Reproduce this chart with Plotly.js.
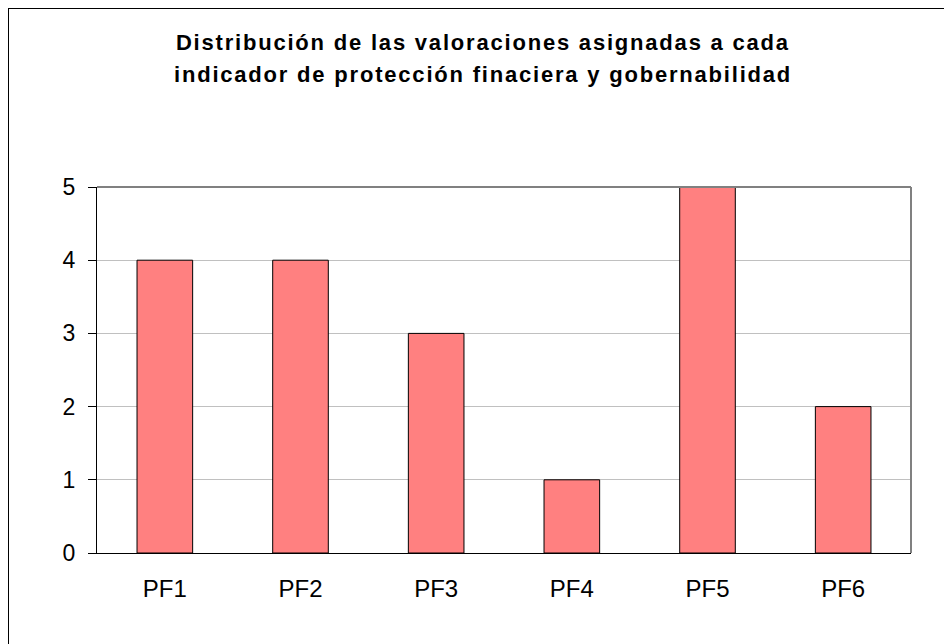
<!DOCTYPE html>
<html>
<head>
<meta charset="utf-8">
<script src="https://cdn.plot.ly/plotly-3.0.1.min.js"></script>
<style>
html,body{margin:0;padding:0;background:#fff;overflow:hidden;}
#wrap{position:relative;width:944px;height:644px;overflow:hidden;}
#chart{width:944px;height:644px;}
#frame{position:absolute;left:8px;top:8px;width:1000px;height:1000px;border:1.5px solid #000;pointer-events:none;box-sizing:border-box;}
#chart .annotation-text{letter-spacing:1.8px;}
</style>
</head>
<body>
<div id="wrap"><div id="chart"></div><div id="frame"></div></div>
<script>
const categories = ["PF1", "PF2", "PF3", "PF4", "PF5", "PF6"];
const values = [4, 4, 3, 1, 5, 2];
const yTicks = [0, 1, 2, 3, 4, 5];
const titleLines = [
  "Distribución de las valoraciones asignadas a cada",
  "indicador de protección finaciera y gobernabilidad"
];

const trace = {
  type: "bar",
  x: categories,
  y: values,
  width: 0.41,
  marker: {color: "#FF8080", line: {color: "#000000", width: 1}},
  hoverinfo: "x+y"
};

const titleFont = {family: "Liberation Sans, Arial, sans-serif", size: 22, color: "#000000", weight: "bold"};
const titleY = [1.3948, 1.3074];

const layout = {
  width: 944,
  height: 644,
  margin: {l: 97, r: 33, t: 187, b: 91, pad: 0},
  paper_bgcolor: "#ffffff",
  plot_bgcolor: "#ffffff",
  showlegend: false,
  font: {family: "Liberation Sans, Arial, sans-serif", color: "#000000", size: 23},
  annotations: titleLines.map((t, i) => ({
    text: t, xref: "paper", yref: "paper", x: 0.4748, y: titleY[i],
    xanchor: "center", yanchor: "middle", showarrow: false, font: titleFont
  })),
  xaxis: {
    type: "category",
    showline: true, linecolor: "#000000", linewidth: 1,
    ticks: "", showgrid: false, zeroline: false,
    tickfont: {size: 24, family: "Liberation Sans, Arial, sans-serif", color: "#000000"},
    ticklabelstandoff: 14
  },
  yaxis: {
    range: [0, 5],
    tickvals: yTicks,
    showline: true, linecolor: "#000000", linewidth: 1,
    ticks: "outside", ticklen: 8, tickcolor: "#000000", tickwidth: 1,
    showgrid: true, gridcolor: "#c0c0c0", gridwidth: 1,
    zeroline: false,
    tickfont: {size: 23, family: "Liberation Sans, Arial, sans-serif", color: "#000000"},
    ticklabelstandoff: 8
  },
  shapes: [
    {type: "line", xref: "paper", yref: "paper", x0: 0, x1: 1, y0: 1, y1: 1, line: {color: "#808080", width: 2}},
    {type: "line", xref: "paper", yref: "paper", x0: 1, x1: 1, y0: 0, y1: 1, line: {color: "#808080", width: 2}}
  ]
};

Plotly.newPlot("chart", [trace], layout, {displayModeBar: false, staticPlot: true});
</script>
</body>
</html>
